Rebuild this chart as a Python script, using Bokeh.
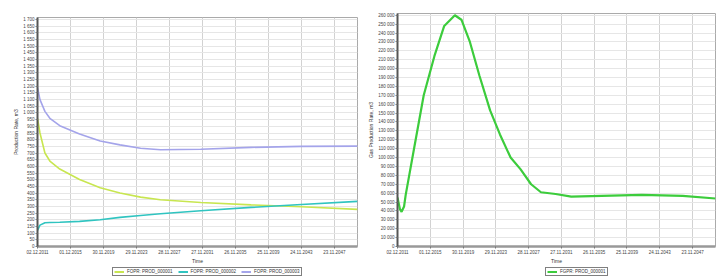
from bokeh.plotting import figure
from bokeh.models import FixedTicker, Legend, LegendItem, Range1d
from bokeh.layouts import row, column
from bokeh.embed import file_html
from bokeh.resources import INLINE

FONT = "Liberation Sans"

# ---------------- data ----------------
# time in years since 02.12.2011
x_tick_years = [0, 4, 8, 12, 16, 20, 24, 28, 32, 36]
x_tick_labels = ["02.12.2011", "01.12.2015", "30.11.2019", "29.11.2023", "28.11.2027",
                 "27.11.2031", "26.11.2035", "25.11.2039", "24.11.2043", "23.11.2047"]

t_oil = [0, 0.3, 0.9, 1.5, 2.7, 5.1, 7.6, 10.0, 12.5, 14.9, 19.8, 25.9, 32.0, 38.8]
rate_well1 = [960, 850, 700, 640, 580, 502, 440, 400, 370, 350, 330, 312, 298, 278]
rate_well2 = [120, 160, 178, 180, 182, 188, 200, 218, 232, 245, 268, 293, 315, 338]
rate_well3 = [1190, 1100, 1012, 960, 905, 842, 790, 761, 736, 725, 728, 742, 750, 752]
oil_names = ["FOPR: PROD_000001", "FOPR: PROD_000002", "FOPR: PROD_000003"]
oil_colors = ["#c8e650", "#30c4c0", "#a4a4ea"]

t_gas = [0, 0.3, 0.5, 0.8, 1.0, 2.0, 3.2, 4.5, 5.7, 7.0, 7.8, 8.8, 10.0, 11.3, 12.5,
         13.8, 15.0, 16.3, 17.5, 19.3, 21.2, 24.9, 29.8, 34.8, 38.8]
gas_rate = [55000, 42000, 39000, 45000, 58000, 109000, 170000, 214000, 248000, 260000,
            255000, 231000, 192000, 153000, 126000, 100000, 87000, 70000, 61000, 59000,
            56000, 57000, 58000, 57000, 54000]
gas_name = "FGPR: PROD_000001"
gas_color = "#3ccc3c"

oil_y_ticks = list(range(0, 1701, 50))
gas_y_ticks = list(range(0, 260001, 10000))


def fmt(v):
    return f"{v:,}".replace(",", " ")


def style(p, yticks):
    p.background_fill_color = "white"
    p.border_fill_color = "white"
    p.outline_line_color = "#aaaaaa"
    p.xaxis.ticker = FixedTicker(ticks=x_tick_years)
    p.xaxis.major_label_overrides = {v: s for v, s in zip(x_tick_years, x_tick_labels)}
    p.yaxis.ticker = FixedTicker(ticks=yticks)
    p.yaxis.major_label_overrides = {v: fmt(v) for v in yticks}
    for ax in (p.xaxis, p.yaxis):
        ax.major_label_text_font = FONT
        ax.major_label_text_font_size = "4.5px"
        ax.major_label_text_color = "#444444"
        ax.axis_label_text_font = FONT
        ax.axis_label_text_font_size = "5px"
        ax.axis_label_text_font_style = "normal"
        ax.axis_label_text_color = "#333333"
        ax.minor_tick_line_color = None
        ax.major_tick_in = 0
        ax.major_tick_out = 2
        ax.major_tick_line_color = "#777777"
        ax.major_label_standoff = 1
        ax.axis_label_standoff = 1
    p.yaxis.axis_line_color = "#555555"
    p.yaxis.axis_line_width = 2
    p.xaxis.axis_line_color = "#999999"
    p.xaxis.axis_line_width = 2.5
    p.xgrid.grid_line_color = "#d2d2d2"
    p.ygrid.grid_line_color = "#e6e6e6"


def legend_fig(width, xs, series, names, colors, x_offset):
    # the series are drawn out of this strip's view; only their legend shows
    lf = figure(width=width, height=11, output_backend="svg", toolbar_location=None,
                x_range=Range1d(0, 1), y_range=Range1d(-2, -1),
                min_border=0, x_axis_location=None, y_axis_location=None)
    lf.grid.visible = False
    lf.outline_line_color = None
    lf.background_fill_color = "white"
    lf.border_fill_color = "white"
    items = []
    for vals, n, c in zip(series, names, colors):
        r = lf.line(xs, vals, line_color=c, line_width=2)
        items.append(LegendItem(label=n, renderers=[r]))
    leg = Legend(items=items, location=(x_offset, 1), orientation="horizontal")
    leg.label_text_font = FONT
    leg.label_text_font_size = "4.5px"
    leg.label_text_color = "#333333"
    leg.label_height = 3
    leg.label_standoff = 3
    leg.glyph_height = 3
    leg.glyph_width = 10
    leg.padding = 1
    leg.spacing = 5
    leg.margin = 0
    leg.border_line_color = "black"
    leg.border_line_width = 1
    leg.background_fill_color = "white"
    leg.background_fill_alpha = 1
    lf.add_layout(leg)
    return lf


# ---------------- left chart ----------------
p1 = figure(width=360, height=266, output_backend="svg", toolbar_location=None,
            min_border_left=37, min_border_right=3, min_border_top=17, min_border_bottom=17,
            x_range=Range1d(0, 38.8), y_range=Range1d(0, 1715),
            x_axis_label="Time", y_axis_label="Production Rate, m3")
style(p1, oil_y_ticks)
oil_series = [rate_well1, rate_well2, rate_well3]
for vals, c in zip(oil_series, oil_colors):
    p1.line(t_oil, vals, line_color=c, line_width=1.6)
l1 = legend_fig(360, t_oil, oil_series, oil_names, oil_colors, 75)

# ---------------- right chart ----------------
p2 = figure(width=362, height=266, output_backend="svg", toolbar_location=None,
            min_border_left=37, min_border_right=7, min_border_top=13, min_border_bottom=17,
            x_range=Range1d(0, 38.8), y_range=Range1d(0, 262000),
            x_axis_label="Time", y_axis_label="Gas Production Rate, m3")
style(p2, gas_y_ticks)
p2.line(t_gas, gas_rate, line_color=gas_color, line_width=2.2)
l2 = legend_fig(362, t_gas, [gas_rate], [gas_name], [gas_color], 148)

layout = row(column(p1, l1), column(p2, l2))
open("out.html", "w").write(file_html(layout, INLINE))
